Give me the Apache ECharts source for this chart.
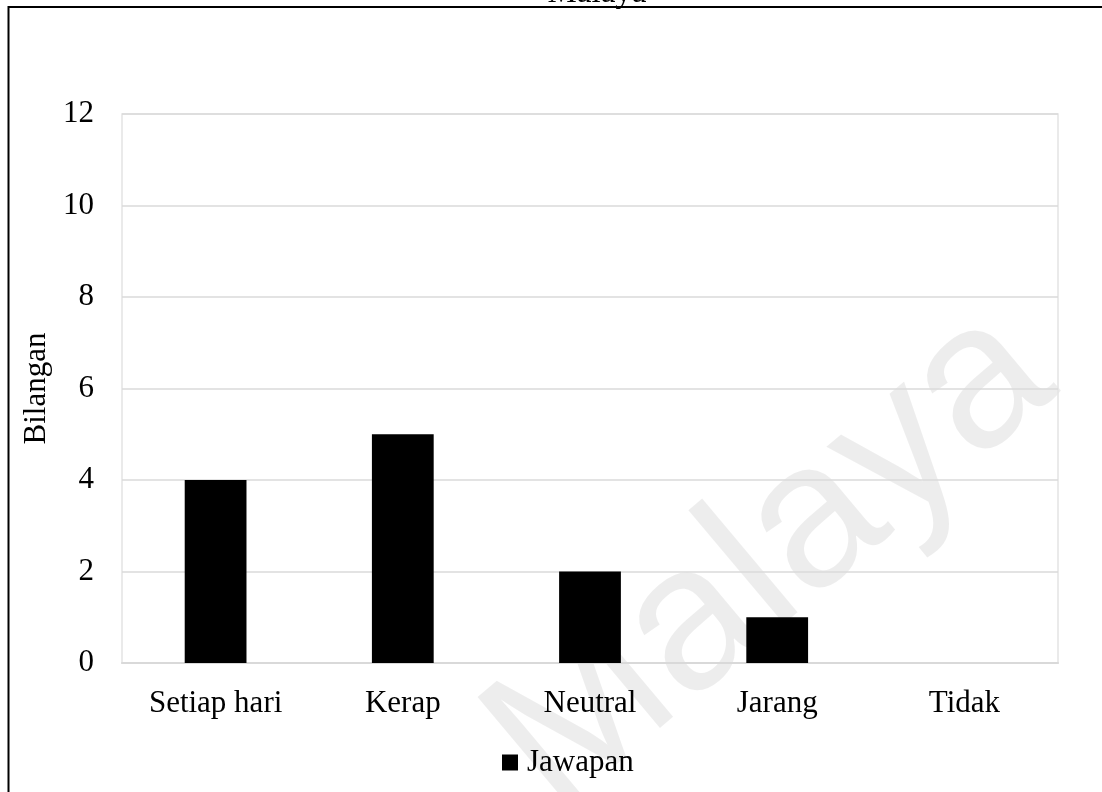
<!DOCTYPE html>
<html>
<head>
<meta charset="utf-8">
<script src="https://cdn.jsdelivr.net/npm/echarts@6/dist/echarts.min.js"></script>
<style>
  html, body { margin: 0; padding: 0; background: #ffffff; }
  #chart { width: 1102px; height: 792px; }
</style>
</head>
<body>
<div id="chart"></div>
<script>
// Response categories and counts
const categories = ['Setiap hari', 'Kerap', 'Neutral', 'Jarang', 'Tidak'];
const jawapan = [4, 5, 2, 1, 0];
const seriesName = 'Jawapan';
const yAxisName = 'Bilangan';
const yMin = 0, yMax = 12, yStep = 2;

const serif = '"Liberation Serif", "Times New Roman", serif';

const chart = echarts.init(document.getElementById('chart'), null, { renderer: 'canvas' });

chart.setOption({
  backgroundColor: '#ffffff',
  animation: false,
  textStyle: { fontFamily: serif, color: '#000' },
  grid: {
    left: 122, right: 44, top: 114, bottom: 129,
    show: true, borderColor: '#e3e3e3', borderWidth: 1.5
  },
  legend: {
    data: [seriesName],
    bottom: 9,
    left: 497,
    icon: 'rect',
    itemWidth: 16, itemHeight: 16, itemGap: 4,
    textStyle: { fontFamily: serif, fontSize: 31, color: '#000', padding: [0, 0, 0, 4] }
  },
  xAxis: {
    type: 'category',
    data: categories,
    axisLine: { show: true, lineStyle: { color: '#d9d9d9', width: 2 } },
    axisTick: { show: false },
    axisLabel: { fontFamily: serif, fontSize: 31, color: '#000', margin: 25 }
  },
  yAxis: {
    type: 'value',
    min: yMin, max: yMax, interval: yStep,
    name: yAxisName,
    nameLocation: 'middle',
    nameRotate: 90,
    nameGap: 60,
    nameTextStyle: { fontFamily: serif, fontSize: 31, color: '#000' },
    axisLine: { show: false },
    axisTick: { show: false },
    splitLine: { lineStyle: { color: '#dadada', width: 1.5 } },
    axisLabel: { fontFamily: serif, fontSize: 31, color: '#000', margin: 28 }
  },
  series: [{
    name: seriesName,
    type: 'bar',
    data: jawapan,
    barWidth: '33%',
    itemStyle: { color: '#000000' }
  }],
  graphic: [
    // outer frame (top and left edges visible)
    {
      type: 'rect', z: 100,
      shape: { x: 8.5, y: 7, width: 1200, height: 900 },
      style: { fill: 'none', stroke: '#000', lineWidth: 2 }
    },
    // heading running off the top edge
    {
      type: 'text', z: 90,
      x: 597, y: -7,
      style: {
        text: 'Malaya', font: '33px ' + serif, fill: '#000',
        align: 'center', verticalAlign: 'middle'
      }
    },
    // faint diagonal watermark
    {
      type: 'text', z: -10,
      x: 772, y: 560, rotation: 40 * Math.PI / 180,
      style: {
        text: 'Malaya', font: '205px "Liberation Sans", Arial, sans-serif',
        fill: 'rgba(0,0,0,0.07)', align: 'center', verticalAlign: 'middle'
      }
    }
  ]
});
</script>
</body>
</html>
